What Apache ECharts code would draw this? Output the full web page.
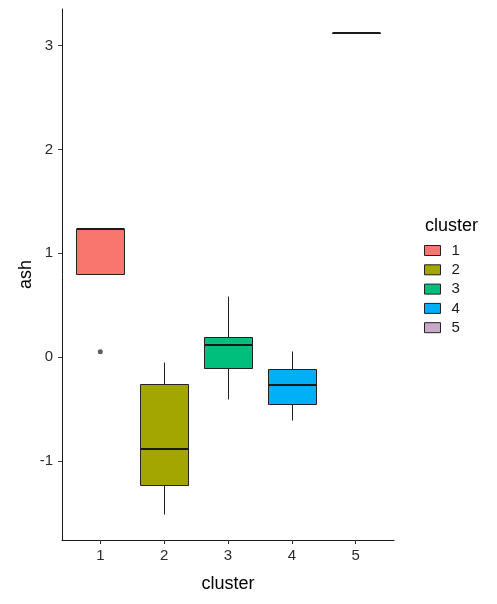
<!DOCTYPE html>
<html>
<head>
<meta charset="utf-8">
<script src="https://cdn.jsdelivr.net/npm/echarts@6/dist/echarts.min.js"></script>
<style>
    html, body { margin: 0; padding: 0; background: #fff; }
    #ash-chart { width: 497px; height: 604px; }
</style>
</head>
<body>
<div id="ash-chart"></div>
<script>
const clusters = ["1", "2", "3", "4", "5"];
const clusterColors = ["#F8766D", "#A3A500", "#00BF7D", "#00B0F6", "#C8A9C8"];
// per cluster: [lower whisker, Q1, median, Q3, upper whisker]
const ashStats = [
    [0.80, 0.80, 1.23, 1.23, 1.23],
    [-1.51, -1.23, -0.89, -0.26, -0.05],
    [-0.40, -0.11, 0.12, 0.19, 0.59],
    [-0.61, -0.45, -0.27, -0.12, 0.06],
    [3.12, 3.12, 3.12, 3.12, 3.12]
];
// [cluster, ash]
const ashOutliers = [[1, 0.05]];
const yTicks = [-1, 0, 1, 2, 3];
const xTicks = [1, 2, 3, 4, 5];

document.addEventListener("DOMContentLoaded", function () {
    const chartEl = document.getElementById("ash-chart");
    const chart = echarts.init(chartEl);
    const fontFamily = "Liberation Sans, Arial, sans-serif";
    const boxWidth = 0.75;
    const edge = "#222222";

    // snap to the pixel grid so 1px lines stay crisp
    function px(v) {
        return Math.round(v) + 0.5;
    }

    function renderBox(params, api) {
        const x = api.value(0);
        const cx = px(api.coord([x, 0])[0]);
        const lo = px(api.coord([x, api.value(1)])[1]);
        const q1 = px(api.coord([x, api.value(2)])[1]);
        const med = api.coord([x, api.value(3)])[1];
        const q3 = px(api.coord([x, api.value(4)])[1]);
        const hi = px(api.coord([x, api.value(5)])[1]);
        const half = Math.round(api.size([boxWidth, 0])[0] / 2);
        const stroke = { stroke: edge, lineWidth: 1 };

        return {
            type: "group",
            children: [
                {
                    type: "line",
                    shape: { x1: cx, y1: hi, x2: cx, y2: q3 },
                    style: stroke
                },
                {
                    type: "line",
                    shape: { x1: cx, y1: q1, x2: cx, y2: lo },
                    style: stroke
                },
                {
                    type: "rect",
                    shape: { x: cx - half, y: q3, width: half * 2, height: q1 - q3 },
                    style: { fill: api.visual("color"), stroke: edge, lineWidth: 1 }
                },
                {
                    type: "line",
                    shape: { x1: cx - half, y1: Math.round(med), x2: cx + half, y2: Math.round(med) },
                    style: { stroke: "#1a1a1a", lineWidth: 2 }
                }
            ]
        };
    }

    const boxSeries = clusters.map((name, i) => ({
        name: name,
        type: "custom",
        renderItem: renderBox,
        itemStyle: { color: clusterColors[i] },
        encode: { x: 0, y: [1, 2, 3, 4, 5] },
        data: [[xTicks[i]].concat(ashStats[i])],
        silent: true
    }));

    chart.setOption({
        animation: false,
        textStyle: { fontFamily: fontFamily },
        title: {
            text: "cluster",
            left: 420,
            top: 212,
            textStyle: { fontSize: 18, fontWeight: "normal", color: "#000", fontFamily: fontFamily }
        },
        legend: {
            data: clusters,
            orient: "vertical",
            left: 424,
            top: 243,
            padding: 0,
            itemWidth: 16,
            itemHeight: 10,
            itemGap: 4.3,
            icon: "rect",
            itemStyle: { borderColor: edge, borderWidth: 1 },
            textStyle: { fontSize: 15, color: "#1a1a1a", padding: [0, 0, 0, 6] },
            selectedMode: false
        },
        grid: {
            left: 62,
            right: 103,
            top: 9,
            bottom: 64
        },
        xAxis: {
            type: "value",
            min: 0.4,
            max: 5.6,
            name: "cluster",
            nameLocation: "middle",
            nameGap: 35,
            nameTextStyle: { fontSize: 18, color: "#000" },
            axisLine: { show: true, onZero: false, lineStyle: { color: "#1a1a1a", width: 1 } },
            axisTick: { show: true, length: 4, customValues: xTicks, lineStyle: { color: "#333" } },
            axisLabel: { fontSize: 15, color: "#2b2b2b", margin: 8, customValues: xTicks },
            splitLine: { show: false }
        },
        yAxis: {
            type: "value",
            min: -1.7625,
            max: 3.3525,
            name: "ash",
            nameLocation: "middle",
            nameGap: 27,
            nameMoveOverlap: false,
            nameTextStyle: { fontSize: 18, color: "#000" },
            axisLine: { show: true, onZero: false, lineStyle: { color: "#1a1a1a", width: 1 } },
            axisTick: { show: true, length: 4, customValues: yTicks, lineStyle: { color: "#333" } },
            axisLabel: { fontSize: 15, color: "#2b2b2b", margin: 9, customValues: yTicks },
            splitLine: { show: false }
        },
        series: boxSeries.concat([
            {
                name: "outlier",
                type: "scatter",
                symbol: "circle",
                symbolSize: 5,
                itemStyle: { color: "#333333" },
                data: ashOutliers,
                silent: true
            }
        ])
    });

    window.addEventListener("resize", () => chart.resize());
});
</script>
</body>
</html>
